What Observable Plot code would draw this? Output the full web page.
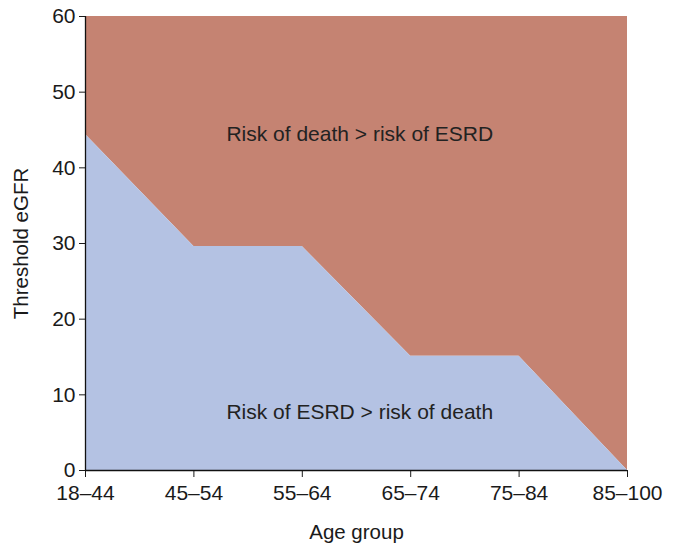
<!DOCTYPE html>
<html><head><meta charset="utf-8">
<script src="https://cdn.jsdelivr.net/npm/d3@7"></script>
<script src="https://cdn.jsdelivr.net/npm/@observablehq/plot@0.6"></script>
<style>
body{margin:0;background:#fff}svg{display:block}
</style>
</head><body><div id="chart"></div>
<script>
const ageGroups = ["18–44","45–54","55–64","65–74","75–84","85–100"];
const thresholdEGFR = [44.4, 29.6, 29.6, 15.1, 15.1, 0];
const yTicks = [0,10,20,30,40,50,60];
const yMax = 60;
const labels = ["Risk of death > risk of ESRD","Risk of ESRD > risk of death"];

const data = ageGroups.map((g,i)=>({i, g, v: thresholdEGFR[i]}));
const font = "'Liberation Sans', Arial, sans-serif";

const chart = Plot.plot({
  width: 673, height: 543,
  marginLeft: 85, marginRight: 46, marginTop: 16, marginBottom: 73,
  style: {fontFamily: font, fontSize: "21px", color: "#1a1a1a", background: "#fff"},
  x: {type: "linear", domain: [0, ageGroups.length-1]},
  y: {domain: [0, yMax]},
  marks: [
    Plot.areaY(data, {x: "i", y1: "v", y2: yMax, fill: "#c58372"}),
    Plot.areaY(data, {x: "i", y1: 0, y2: "v", fill: "#b4c2e3"}),
    Plot.text([labels[0]], {x: 2.53, y: 44.5, text: d=>d, fontSize: 21, fill: "#222"}),
    Plot.text([labels[1]], {x: 2.53, y: 7.7, text: d=>d, fontSize: 21, fill: "#222"}),
    Plot.axisX({ticks: d3.range(ageGroups.length), tickFormat: i=>ageGroups[i], tickSize: 7, tickPadding: 8, label: "Age group", labelAnchor: "center", labelOffset: 68, labelArrow: "none"}),
    Plot.axisY({ticks: yTicks, tickSize: 6, tickPadding: 4, label: "Threshold eGFR", labelAnchor: "center", labelOffset: 72, labelArrow: "none"}),
    Plot.ruleY([0], {stroke: "#111", strokeWidth: 1.3}),
    Plot.ruleX([0], {stroke: "#111", strokeWidth: 1.3})
  ]
});
chart.querySelectorAll('g[aria-label$="tick label"]').forEach(g => {
  g.setAttribute("font-size", "21");
  g.querySelectorAll("text").forEach(t => t.style.fontSize = "21px");
});
chart.querySelectorAll('g[aria-label$="axis label"] text').forEach(t => t.style.fontSize = "20.5px");
document.getElementById("chart").appendChild(chart);
</script></body></html>
